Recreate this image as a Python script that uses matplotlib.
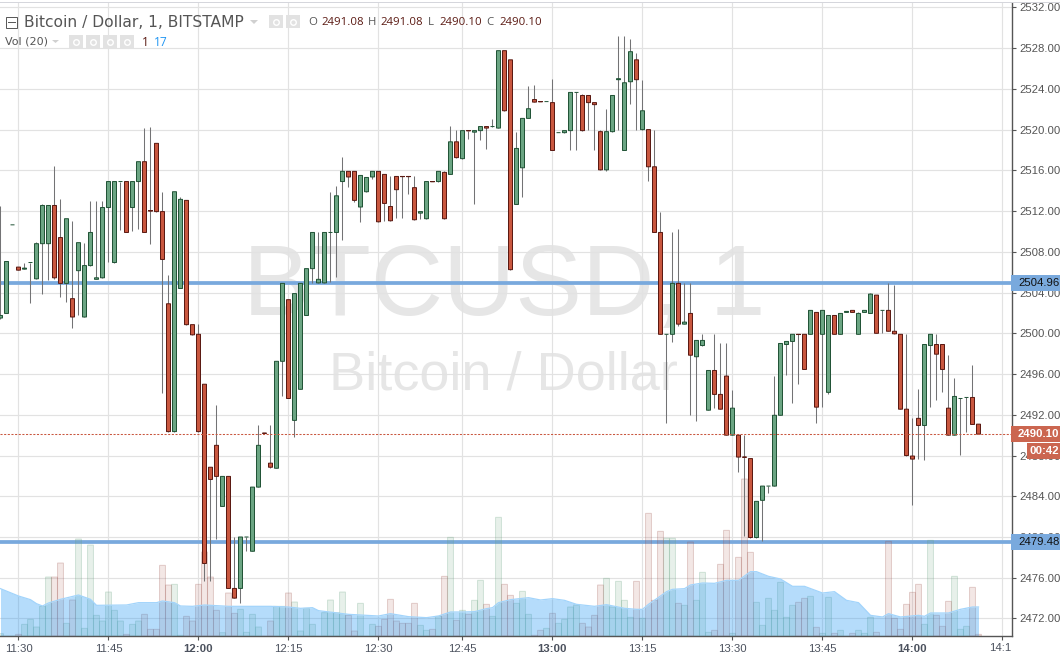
import matplotlib
matplotlib.use('Agg')
from matplotlib import pyplot as plt
from matplotlib.patches import Rectangle, Polygon
import numpy as np

plt.rcParams['font.family'] = ['Liberation Sans', 'DejaVu Sans']

# candle number 0 is the 11:30 bar
first_bar = -3
opens = [2501.5, 2501.95, 2510.65, 2506.5, 2506.3, 2506.95, 2505.35, 2508.8, 2508.8, 2512.55,
         2509.4, 2504.9, 2503.4, 2506.15, 2501.6, 2506.65, 2505.3, 2505.45, 2512.35, 2506.95,
         2514.9, 2514.9, 2512.35, 2514.9, 2516.85, 2512.05, 2518.65, 2511.95, 2502.9, 2490.35,
         2504.4, 2513.05, 2500.85, 2499.9, 2495, 2486.85, 2489, 2483, 2485.95, 2474.95,
         2474.95, 2480, 2478.6, 2484.9, 2490.2, 2487.25, 2486.75, 2497.25, 2503.3, 2491.45,
         2494.5, 2501.75, 2506.35, 2504.95, 2504.95, 2509.9, 2509.9, 2514.9, 2515.9, 2515.9,
         2512.4, 2513.9, 2515.35, 2515.9, 2515.6, 2512.45, 2515.4, 2515.4, 2515.4, 2514.3,
         2511.8, 2511.25, 2514.9, 2514.9, 2515.8, 2515.6, 2518.8, 2517.15, 2519.9, 2519.75,
         2519.9, 2520.3, 2520.3, 2520.15, 2527.75, 2526.85, 2512.65, 2516.25, 2521.1, 2522.95,
         2522.75, 2522.75, 2522.65, 2519.7, 2519.7, 2519.9, 2523.65, 2523.35, 2523.35, 2522.65,
         2519.8, 2516.05, 2519.8, 2524.9, 2517.95, 2524.7, 2526.85, 2520, 2520, 2516.35,
         2509.9, 2499.9, 2499.9, 2504.9, 2500.9, 2501.95, 2497.7, 2498.8, 2492.45, 2496.35,
         2494, 2495.8, 2490, 2490, 2487.85, 2487.7, 2479.95, 2483.6, 2485, 2485,
         2491.95, 2498.9, 2499.2, 2499.9, 2499.9, 2499.9, 2502.05, 2499.9, 2494.2, 2501.75,
         2499.9, 2502.05, 2502.25, 2499.9, 2502.05, 2501.95, 2503.75, 2502.25, 2502.25, 2500.2,
         2499.9, 2492.55, 2487.95, 2491.65, 2490.95, 2498.8, 2498.9, 2498.9, 2492.65, 2490,
         2493.6, 2493.7, 2493.7, 2491.08]
highs = [2512.5, 2507.05, 2510.65, 2506.5, 2506.9, 2506.95, 2509, 2512.7, 2512.55, 2516.4,
         2513.15, 2511.25, 2511, 2508.9, 2508.9, 2512.95, 2512.95, 2512.95, 2514.9, 2514.9,
         2514.9, 2514.9, 2514.9, 2516.85, 2520.15, 2520.25, 2518.65, 2513.85, 2505.7, 2513.9,
         2513.4, 2513.05, 2500.85, 2500.95, 2495, 2486.85, 2492.95, 2485.95, 2485.95, 2480,
         2480, 2480, 2484.9, 2491, 2490.2, 2491, 2497.25, 2504.9, 2503.3, 2503.9,
         2504.9, 2506.35, 2509.9, 2509.9, 2509.9, 2513.85, 2514.45, 2517.3, 2515.9, 2515.9,
         2515.5, 2515.3, 2515.9, 2515.9, 2515.6, 2515.4, 2515.4, 2515.4, 2515.4, 2515.4,
         2511.95, 2514.9, 2514.9, 2515.9, 2515.9, 2520.35, 2519.95, 2519.9, 2519.9, 2519.9,
         2520.3, 2520.3, 2521, 2527.75, 2527.75, 2526.85, 2519.75, 2521.1, 2524.25, 2524.35,
         2522.75, 2522.75, 2524.95, 2519.7, 2519.9, 2523.65, 2523.65, 2523.45, 2523.35, 2522.65,
         2519.95, 2522, 2523.35, 2529.15, 2529.15, 2528.85, 2527.55, 2524.9, 2520, 2519.95,
         2511.9, 2499.9, 2509.9, 2510.2, 2504.9, 2504.9, 2499.3, 2499.9, 2496.35, 2499.9,
         2499, 2499, 2494.45, 2490, 2490, 2487.7, 2483.5, 2485, 2485, 2495.8,
         2499, 2499.2, 2499.9, 2499.9, 2499.9, 2502.25, 2502.05, 2502.25, 2501.75, 2501.75,
         2501.95, 2502.15, 2502.25, 2502.05, 2502.25, 2504, 2503.75, 2502.25, 2504.9, 2504.75,
         2499.9, 2499.9, 2491.65, 2494.55, 2498.9, 2499.9, 2499.9, 2498.9, 2497.85, 2495.6,
         2493.6, 2493.7, 2496.9, 2491.08]
lows = [2501.45, 2501.95, 2510.65, 2506.2, 2506.3, 2503, 2505.35, 2503.9, 2505.2, 2505.3,
        2503.55, 2503.1, 2500.55, 2501.75, 2501.6, 2506.65, 2505.3, 2505.45, 2507, 2506.95,
        2510.1, 2509.9, 2510.05, 2510.2, 2509.9, 2508.75, 2511.95, 2494.1, 2490.35, 2490.35,
        2504.4, 2500.85, 2499.85, 2490.35, 2475.7, 2475.7, 2479.8, 2483, 2474.95, 2474,
        2473.55, 2478.65, 2478.6, 2484.9, 2490.18, 2486.75, 2486.75, 2493.8, 2493.6, 2489.85,
        2494.5, 2501.75, 2504.95, 2504.95, 2504.95, 2505.05, 2505.55, 2509.15, 2514.35, 2512.9,
        2510.95, 2513.9, 2515.15, 2510.95, 2511, 2511.05, 2511.3, 2511.3, 2513.65, 2511.15,
        2511.2, 2511.25, 2514.88, 2514.9, 2511.25, 2515.6, 2517.25, 2517.15, 2519.05, 2512.7,
        2518.95, 2518.05, 2520.3, 2520.15, 2521.85, 2506.25, 2512.65, 2513.4, 2521.1, 2522.7,
        2522.73, 2522.75, 2517.95, 2519.7, 2519.7, 2517.95, 2517.95, 2519.9, 2519.95, 2517.95,
        2516.05, 2515.95, 2519.8, 2519.95, 2517.95, 2522.55, 2519.95, 2520, 2514.95, 2509.9,
        2499.9, 2491.15, 2499.1, 2500.75, 2500.9, 2492, 2491.35, 2498.8, 2492.45, 2492.7,
        2492.55, 2490, 2490, 2486.4, 2480.1, 2479.95, 2479.95, 2479.65, 2484.35, 2485,
        2491.95, 2495.95, 2493.2, 2495.05, 2496.45, 2499.9, 2491.15, 2492.8, 2494, 2499.9,
        2499.9, 2502.05, 2502.05, 2499.9, 2502.05, 2501.95, 2500, 2500, 2500.2, 2499.95,
        2492.55, 2488, 2483.1, 2487.7, 2487.55, 2492.75, 2493.45, 2494.2, 2490, 2490,
        2488.05, 2490.35, 2491.05, 2490.1]
closes = [2501.75, 2507.05, 2510.65, 2506.2, 2506.4, 2506.95, 2508.8, 2512.55, 2512.55, 2505.45,
          2504.9, 2511.25, 2501.6, 2508.9, 2506.65, 2509.9, 2505.45, 2512.35, 2514.9, 2514.9,
          2514.9, 2509.9, 2514.9, 2516.85, 2509.9, 2512, 2511.95, 2507.25, 2490.35, 2513.9,
          2513.15, 2500.85, 2499.85, 2490.35, 2477.4, 2485.65, 2485.95, 2485.95, 2474.95, 2474,
          2480, 2480, 2484.9, 2489, 2490.18, 2486.85, 2497.25, 2504.9, 2493.6, 2503.9,
          2504.9, 2506.35, 2509.9, 2505.3, 2509.9, 2509.9, 2513.5, 2515.9, 2515.35, 2513.05,
          2515.5, 2515.3, 2515.9, 2510.95, 2512.75, 2511.05, 2514.1, 2515.38, 2515.38, 2511.15,
          2511.95, 2514.9, 2514.88, 2515.9, 2511.25, 2518.8, 2517.25, 2519.9, 2519.88, 2519.9,
          2520.3, 2520.15, 2520.3, 2527.75, 2521.85, 2506.25, 2518.15, 2521.1, 2522.05, 2522.7,
          2522.73, 2522.75, 2517.95, 2519.7, 2519.9, 2523.65, 2523.65, 2519.9, 2522.65, 2522.45,
          2516.05, 2519.8, 2523.35, 2525, 2524.6, 2527.65, 2524.9, 2521.85, 2516.35, 2509.9,
          2499.9, 2499.9, 2504.9, 2500.9, 2501.1, 2497.85, 2499.3, 2499.3, 2496.35, 2494,
          2492.55, 2490, 2492.65, 2487.85, 2487.83, 2479.95, 2483.5, 2485, 2485, 2491.95,
          2499, 2499.2, 2499.9, 2499.88, 2496.45, 2502.25, 2492.75, 2502.25, 2501.75, 2499.9,
          2501.95, 2502.15, 2502.05, 2501.95, 2502.25, 2503.85, 2500, 2502.25, 2500.2, 2499.95,
          2492.55, 2488, 2487.65, 2490.95, 2498.9, 2499.9, 2497.95, 2496.45, 2490, 2493.8,
          2493.6, 2493.7, 2491.05, 2490.1]
volumes = [1.4, 0, 0, 1, 7, 10, 5.4, 17.8, 35.4, 35.4,
           43.8, 7.6, 21.6, 58.2, 4.6, 54.6, 12.4, 9, 26.4, 15.4,
           9, 1, 7, 9, 13, 4, 4, 42.4, 30.6, 31,
           0.4, 11.8, 9, 31, 50.4, 35.4, 15.4, 2, 25.8, 13.6,
           16, 2.2, 13, 5.4, 0, 9, 17.8, 17.8, 25.8, 20.4,
           3, 16.6, 7, 0, 14, 21.6, 14, 26.4, 12.4, 3,
           19.6, 0, 7, 5.8, 10, 22, 9, 7.6, 7.6, 19.6,
           6.4, 3.4, 4, 11.8, 35.8, 59.2, 9.4, 15.4, 13, 21.4,
           33.4, 19, 11.8, 71.2, 31, 24.4, 19.6, 26.8, 13, 0.4,
           3.4, 4.6, 13.6, 7.6, 10, 17.4, 18.6, 7.6, 5.4, 12.4,
           30.6, 34.6, 17.4, 32.8, 21.4, 11.2, 32.8, 10.6, 73.6, 21.4,
           62.8, 58.6, 58.6, 19.6, 18.4, 56.4, 21.4, 38.2, 2.2, 3.4,
           43, 63.4, 1.6, 47.2, 94.2, 50.2, 20.2, 6.4, 22.6, 15.4,
           32.2, 11.2, 18.4, 20.2, 22.6, 23.8, 5.2, 1.6, 23.2, 1.6,
           3.4, 0, 1.6, 3.4, 1.6, 11.2, 2.2, 0, 56.8, 10.6,
           4, 19, 26.2, 31, 7, 57.4, 12.4, 5.8, 20.8, 35.8,
           4, 5.8, 29.2, 1]
# Vol(20) curve, read at these bars
ma_bars = [-3, 0, 2, 3, 4, 5, 7, 10, 12, 13, 18, 20, 23, 24, 26, 27, 29, 31, 35, 42, 45, 47, 49, 50, 55,
           57, 60, 62, 65, 68, 70, 72, 74, 76, 78, 79, 80, 82, 85, 87, 89, 91, 93, 96, 98, 101, 103, 104,
           105, 107, 108, 109, 111, 112, 114, 116, 118, 120, 122, 123, 125, 127, 129, 131, 134, 136, 138,
           140, 142, 144, 145, 147, 150, 151, 152, 155, 157, 159, 160]
ma_vals = [28.4, 24, 21.8, 19.4, 18, 19.8, 22, 24.6, 22, 18.4, 18.6, 20, 20, 21, 20, 18, 17.8, 18.6, 17.8,
           17.8, 17.4, 16.6, 17, 15.2, 13, 12.6, 12, 13.4, 11.6, 11, 12, 14.4, 14.4, 14.6, 16.4, 17, 20,
           21.8, 23, 21.6, 22.4, 21.4, 19, 17.8, 18.8, 16.6, 16, 16, 19, 24, 26.6, 28, 28.4, 30.6, 31.8,
           31.6, 33.4, 33.4, 38.6, 38.6, 35.8, 34.2, 29.8, 29.8, 25.8, 26.6, 21.4, 20, 12.4, 11.4, 13.4,
           11.4, 12.4, 11.8, 13.8, 13.8, 16, 17.4, 17.4]
price_ticks = np.arange(2472, 2533, 4)
time_bars = [0, 15, 30, 45, 60, 74, 89, 104, 119, 134, 149]
time_labels = ['11:30', '11:45', '12:00', '12:15', '12:30', '12:45', '13:00', '13:15', '13:30', '13:45', '14:00']
bold_times = ['12:00', '13:00', '14:00']
hline_levels = [2504.96, 2479.48]
last_price = 2490.10

UP, DOWN = '#6ba583', '#c9573f'
UP_EDGE, DOWN_EDGE = '#225437', '#5b1a13'
BLUE = '#79a9dd'

bars = np.arange(first_bar, first_bar + len(opens))
o, h, l, c = map(np.array, (opens, highs, lows, closes))
up = c >= o

fig = plt.figure(figsize=(10.6, 6.55), dpi=100, facecolor='white')
rect = [0, 1 - 636 / 655, 1011.5 / 1060, 633 / 655]   # plot area, top at y=3


def layer(z):
    a = fig.add_axes(rect, zorder=z)
    a.set_xlim(-3.083, 165.5)
    a.set_ylim(2470.28, 2532.43)
    a.patch.set_visible(False)
    return a


# back layer: grid, the two drawn levels
bg = layer(1)
bg.axis('off')
for p in price_ticks:
    bg.axhline(p, color='#e2e2e2', lw=0.85, zorder=1)
for b in time_bars + [164]:
    bg.axvline(b, color='#e2e2e2', lw=0.85, zorder=1)
for lv in hline_levels:
    bg.axhline(lv, color=BLUE, lw=2.7, zorder=3)

# volume
axv = layer(2)
axv.axis('off')
axv.set_ylim(0, 633 * 3 / 5)
axv.bar(bars[up], np.array(volumes)[up], width=0.98, color=(0.42, 0.65, 0.51, 0.16),
        edgecolor=(0.42, 0.65, 0.51, 0.28), lw=0.7)
axv.bar(bars[~up], np.array(volumes)[~up], width=0.98, color=(0.72, 0.42, 0.38, 0.16),
        edgecolor=(0.6, 0.3, 0.28, 0.26), lw=0.7)
axv.fill_between(ma_bars, ma_vals, 0, color='#2196f3', alpha=0.33, lw=0)
axv.plot(ma_bars, ma_vals, color='#a2d4fb', lw=0.9)

# candles + axis
ax = layer(3)
ax.vlines(bars, l, h, color='#737375', lw=0.75, zorder=2)
ax.bar(bars[up], (c - o)[up], bottom=o[up], width=0.667, color=UP, edgecolor=UP_EDGE, lw=0.72, zorder=3)
ax.bar(bars[~up], (c - o)[~up], bottom=o[~up], width=0.667, color=DOWN, edgecolor=DOWN_EDGE, lw=0.72, zorder=3)
ax.axhline(last_price, color=DOWN, lw=0.75, ls=(0, (2, 1.5)), zorder=4)

# no pixel snapping, it makes the bodies uneven in width
for a in (axv, ax):
    for patch in a.patches:
        patch.set_snap(False)

for s in ('left', 'top'):
    ax.spines[s].set_visible(False)
for s in ('right', 'bottom'):
    ax.spines[s].set_color('#555555')
    ax.spines[s].set_linewidth(1)
ax.yaxis.tick_right()
ax.set_yticks(price_ticks, [f'{p:.2f}' for p in price_ticks])
ax.set_xticks(time_bars + [164], time_labels + [''])
ax.tick_params(axis='y', length=3, width=0.8, color='#555555', labelcolor='#555555', labelsize=8.2, pad=3)
ax.tick_params(axis='x', length=3, width=0.8, color='#555555', labelcolor='#4c525e', labelsize=8.2, pad=3)
for t in ax.get_xticklabels():
    if t.get_text() in bold_times:
        t.set_fontweight('bold')

# pixel overlay for the texts and price tags
top = fig.add_axes([0, 0, 1, 1], zorder=5)
top.set_xlim(0, 1060)
top.set_ylim(655, 0)
top.axis('off')
top.add_patch(Rectangle((0, 1.5), 1060, 1.2, color='#d5d6dc', lw=0))
top.text(989, 648, '14:1', fontsize=8.2, color='#4c525e', va='center', ha='left')


def tag(x, y0, y1, txt, col, tcol, bold=False):
    top.add_patch(Rectangle((x, y0), 1060 - x, y1 - y0, color=col, lw=0, zorder=6))
    top.text(1018 if x < 1020 else 1030, (y0 + y1) / 2 + 0.3, txt, color=tcol, fontsize=8.2, va='center', ha='left',
             fontweight='bold' if bold else 'normal', zorder=7)


tag(1011, 275, 291, '2504.96', BLUE, '#111111')
tag(1011, 534, 550, '2479.48', BLUE, '#111111')
tag(1011, 426, 442, '2490.10', '#cb6650', 'white', True)
tag(1027, 443, 459, '00:42', '#cb6650', 'white', True)

# watermark sits under the grid
wm = fig.add_axes([0, 0, 1, 1], zorder=0)
wm.set_xlim(0, 1060)
wm.set_ylim(655, 0)
wm.axis('off')
wm.text(504, 289, 'BTCUSD, 1', fontsize=72, color='#e6e6e6', ha='center', va='center')
wm.text(503.5, 376, 'Bitcoin / Dollar', fontsize=39, color='#e6e6e6', ha='center', va='center')

# legend lines
hdr = ['DejaVu Sans']
top.add_patch(Rectangle((5.5, 16.5), 11, 11, fill=False, edgecolor='#555555', lw=0.7))
top.plot([7.5, 14.5], [22, 22], color='#555555', lw=0.7)
top.text(24.5, 22.5, 'Bitcoin / Dollar, 1, BITSTAMP', fontsize=11.2, color='#555555', family=hdr, va='center')
top.text(5, 41.5, 'Vol (20)', fontsize=8, color='#555555', family=hdr, va='center')
top.add_patch(Polygon([[250, 20], [258, 20], [254, 24]], color='#d0d0d0', lw=0))
top.add_patch(Polygon([[52, 40], [59, 40], [55.5, 43]], color='#d0d0d0', lw=0))
for x0, y0 in [(269, 15), (286, 15), (69, 35), (86, 35), (103, 35), (120, 35)]:
    top.add_patch(Rectangle((x0, y0), 14, 13, color='#e2e2e2', lw=0))
    top.plot([x0 + 7], [y0 + 6.5], marker='o', ms=4, mfc='none', mec='white', mew=1)
ohlc = ['Open Sans', 'DejaVu Sans']
for x0, lab, col in [(308, 'O', '#555555'), (321, '2491.08', '#5b1a13'), (368, 'H', '#555555'), (380, '2491.08', '#5b1a13'),
                     (428, 'L', '#555555'), (439, '2490.10', '#5b1a13'), (486, 'C', '#555555'), (499, '2490.10', '#5b1a13')]:
    top.text(x0, 22.5, lab, fontsize=8.2, color=col, family=ohlc, va='center')
top.text(142, 42.5, '1', fontsize=8.6, color='#5b1a13', family=ohlc, va='center')
top.text(154, 42.5, '17', fontsize=8.6, color='#2196f3', family=ohlc, va='center')

plt.savefig('out.png', dpi=100, facecolor='white')
